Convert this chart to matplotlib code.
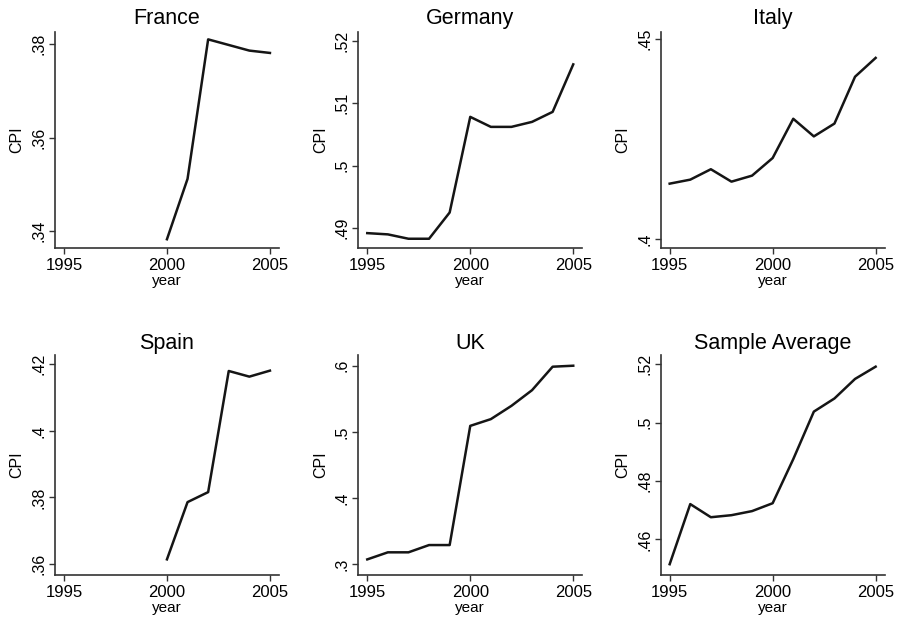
import matplotlib
matplotlib.use("Agg")
import matplotlib.pyplot as plt
from matplotlib.ticker import FuncFormatter

plt.rcParams['font.family'] = ['Liberation Sans', 'DejaVu Sans']

# Datos
years = list(range(1995, 2006))
years_late = list(range(2000, 2006))

france = [0.3383, 0.3512, 0.3810, 0.3798, 0.3786, 0.3781]
germany = [0.4892, 0.4890, 0.4883, 0.4883, 0.4925, 0.5078,
           0.5062, 0.5062, 0.5070, 0.5086, 0.5162]
italy = [0.4138, 0.4148, 0.4174, 0.4143, 0.4158, 0.4202,
         0.4300, 0.4256, 0.4288, 0.4405, 0.4452]
spain = [0.3614, 0.3786, 0.3816, 0.4180, 0.4163, 0.4181]
uk = [0.307, 0.3177, 0.3177, 0.3287, 0.3287, 0.509,
      0.5192, 0.5393, 0.5630, 0.5985, 0.600]
sample_avg = [0.4515, 0.4721, 0.4676, 0.4683, 0.4697, 0.4724,
              0.4875, 0.5038, 0.5083, 0.5150, 0.5192]

titles = ["France", "Germany", "Italy", "Spain", "UK", "Sample Average"]
xdata = [years_late, years, years, years_late, years, years]
ydata = [france, germany, italy, spain, uk, sample_avg]
yticks = [[0.34, 0.36, 0.38], [0.49, 0.50, 0.51, 0.52], [0.40, 0.45],
          [0.36, 0.38, 0.40, 0.42], [0.3, 0.4, 0.5, 0.6],
          [0.46, 0.48, 0.50, 0.52]]
ylims = [(0.3364, 0.3826), (0.4868, 0.5214), (0.3977, 0.4517),
         (0.3567, 0.4228), (0.2834, 0.6162), (0.4478, 0.5232)]

fig = plt.figure(figsize=(9, 6.25), dpi=100)

lefts = [0.061, 0.398, 0.734]
w = 0.249
rows = [(0.603, 0.346), (0.080, 0.352)]

def fmt(v, pos):
    return f"{v:g}".lstrip("0")

for i in range(6):
    r, c = divmod(i, 3)
    ax = fig.add_axes([lefts[c], rows[r][0], w, rows[r][1]])
    ax.plot(xdata[i], ydata[i], color="#151515", linewidth=1.8)
    ax.set_xlim(1994.56, 2005.44)
    ax.set_ylim(*ylims[i])
    ax.set_xticks([1995, 2000, 2005])
    ax.set_yticks(yticks[i])
    ax.yaxis.set_major_formatter(FuncFormatter(fmt))
    for side in ["top", "right"]:
        ax.spines[side].set_visible(False)
    for side in ["left", "bottom"]:
        ax.spines[side].set_color("#333333")
        ax.spines[side].set_linewidth(1.2)
    ax.tick_params(axis="both", direction="out", length=4, width=1,
                   color="#333333")
    ax.tick_params(axis="x", labelsize=12, pad=3)
    ax.tick_params(axis="y", labelsize=11.5, pad=2)
    for lab in ax.get_yticklabels():
        lab.set_rotation(90)
        lab.set_va("center")
    ax.set_title(titles[i], fontsize=15.5, pad=6 if r == 0 else 4)
    ax.set_xlabel("year", fontsize=11, labelpad=1)
    ax.set_ylabel("CPI", fontsize=11.5, labelpad=5)

fig.savefig("out.png", dpi=100, facecolor="white")
